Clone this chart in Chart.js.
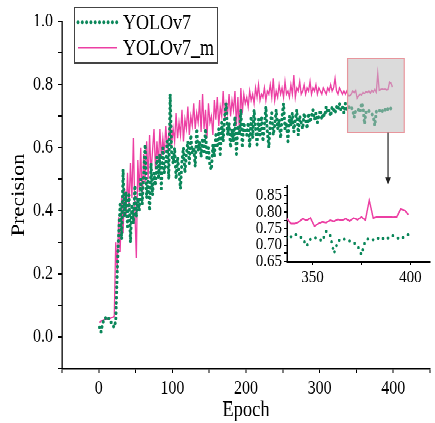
<!DOCTYPE html>
<html>
<head>
<meta charset="utf-8">
<script src="https://cdn.jsdelivr.net/npm/chart.js@4"></script>
<style>
  html, body { margin: 0; padding: 0; background: #fff; }
  #page { position: relative; width: 435px; height: 423px; }
  /* the reference figure is stretched vertically, so the whole drawing is too */
  #wrap { position: absolute; left: 0; top: 0; width: 435px; height: 352px; transform: scale(1, 1.2017); transform-origin: 0 0; }
  #mainChart { position: absolute; left: 0; top: 0; }
  #insetChart { position: absolute; left: 240px; top: 145px; }
</style>
</head>
<body>
<div id="page">
<div id="wrap">
  <canvas id="mainChart" width="435" height="352"></canvas>
  <canvas id="insetChart" width="195" height="100"></canvas>
</div>
</div>
<script>
// Precision per epoch, read every 2 epochs
const yolov7 = [
  0.030, 0.015, 0.040, 0.055, 0.060, 0.055, 0.060, 0.050, 0.045, 0.035,
  0.030, 0.050, 0.20, 0.33, 0.42, 0.31, 0.53, 0.38, 0.46, 0.35,
  0.45, 0.30, 0.42, 0.36, 0.48, 0.38, 0.44, 0.40, 0.50, 0.42,
  0.52, 0.61, 0.44, 0.50, 0.40, 0.55, 0.45, 0.52, 0.48, 0.57,
  0.50, 0.58, 0.47, 0.60, 0.52, 0.55, 0.62, 0.50, 0.77, 0.58,
  0.55, 0.60, 0.50, 0.57, 0.52, 0.47, 0.56, 0.60, 0.52, 0.58,
  0.62, 0.55, 0.64, 0.58, 0.60, 0.54, 0.66, 0.59, 0.62, 0.57,
  0.63, 0.58, 0.66, 0.56, 0.60, 0.54, 0.53, 0.61, 0.57, 0.64,
  0.60, 0.66, 0.58, 0.68, 0.62, 0.70, 0.74, 0.64, 0.68, 0.60,
  0.66, 0.62, 0.70, 0.58, 0.67, 0.64, 0.72, 0.60, 0.68, 0.65,
  0.64, 0.68, 0.60, 0.70, 0.63, 0.72, 0.66, 0.61, 0.69, 0.64,
  0.70, 0.62, 0.67, 0.73, 0.65, 0.60, 0.68, 0.71, 0.64, 0.67,
  0.72, 0.66, 0.69, 0.63, 0.70, 0.74, 0.66, 0.68, 0.62, 0.70,
  0.67, 0.71, 0.65, 0.69, 0.72, 0.64, 0.70, 0.68, 0.66, 0.71,
  0.69, 0.66, 0.71, 0.68, 0.70, 0.72, 0.69, 0.71, 0.68, 0.70,
  0.72, 0.69, 0.71, 0.70, 0.73, 0.71, 0.72, 0.70, 0.73, 0.72,
  0.71, 0.73, 0.72, 0.74, 0.72, 0.73, 0.71, 0.74, 0.72, 0.725,
  0.733, 0.728, 0.720, 0.696, 0.718, 0.722, 0.720, 0.712, 0.742, 0.730,
  0.675, 0.712, 0.720, 0.716, 0.712, 0.708, 0.698, 0.670, 0.714, 0.720,
  0.716, 0.722, 0.715, 0.724, 0.720, 0.728, 0.722, 0.718, 0.726, 0.732
];

const yolov7m = [
  0.045, 0.050, 0.052, 0.054, 0.055, 0.056, 0.058, 0.058, 0.060, 0.062,
  0.065, 0.30, 0.21, 0.38, 0.27, 0.44, 0.33, 0.47, 0.38, 0.52,
  0.41, 0.55, 0.44, 0.63, 0.40, 0.25, 0.56, 0.46, 0.60, 0.43,
  0.58, 0.49, 0.62, 0.50, 0.64, 0.52, 0.59, 0.66, 0.53, 0.62,
  0.55, 0.66, 0.57, 0.63, 0.58, 0.67, 0.60, 0.64, 0.70, 0.61,
  0.66, 0.62, 0.71, 0.63, 0.68, 0.64, 0.72, 0.62, 0.69, 0.66,
  0.73, 0.64, 0.70, 0.67, 0.74, 0.66, 0.71, 0.68, 0.75, 0.65,
  0.77, 0.66, 0.72, 0.63, 0.74, 0.68, 0.70, 0.64, 0.75, 0.69,
  0.76, 0.67, 0.73, 0.70, 0.78, 0.69, 0.74, 0.71, 0.77, 0.70,
  0.75, 0.72, 0.78, 0.67, 0.76, 0.65, 0.79, 0.71, 0.77, 0.74,
  0.76, 0.73, 0.78, 0.75, 0.77, 0.74, 0.79, 0.76, 0.80, 0.75,
  0.77, 0.76, 0.79, 0.75, 0.78, 0.77, 0.80, 0.76, 0.82, 0.75,
  0.78, 0.76, 0.80, 0.77, 0.79, 0.76, 0.81, 0.77, 0.78, 0.76,
  0.80, 0.77, 0.83, 0.76, 0.79, 0.78, 0.81, 0.77, 0.78, 0.80,
  0.77, 0.79, 0.78, 0.81, 0.77, 0.79, 0.78, 0.80, 0.77, 0.79,
  0.78, 0.77, 0.79, 0.78, 0.77, 0.79, 0.78, 0.80, 0.78, 0.79,
  0.82, 0.78, 0.77, 0.79, 0.78, 0.77, 0.78, 0.77, 0.78, 0.765,
  0.765, 0.770, 0.780, 0.775, 0.782, 0.757, 0.765, 0.770, 0.768, 0.775,
  0.772, 0.778, 0.775, 0.780, 0.773, 0.782, 0.777, 0.785, 0.776, 0.835,
  0.782, 0.785, 0.786, 0.785, 0.786, 0.784, 0.785, 0.808, 0.805, 0.792
];

// x values: one reading every 2 epochs
const epochs = yolov7.map((_, i) => i * 2 + 1);

const seriesNames = ["YOLOv7", "YOLOv7_m"];
const green = "#0b875a";
const pink = "#ec3fa3";
const serif = "'Liberation Serif', 'Times New Roman', serif";

// zoomed region shown in the inset
const zoomFrom = 338, zoomTo = 415, zoomLow = 0.648, zoomHigh = 0.883;

const toPoints = (vals) => vals.map((v, i) => ({ x: epochs[i], y: v }));

function makeDatasets(dotWidth, dotGap, lineWidth) {
  return [
    {
      label: seriesNames[0],
      data: toPoints(yolov7),
      borderColor: green,
      borderWidth: dotWidth,
      borderDash: [0, dotGap],
      borderCapStyle: "round",
      pointRadius: 0,
      tension: 0,
    },
    {
      label: seriesNames[1],
      data: toPoints(yolov7m),
      borderColor: pink,
      borderWidth: lineWidth,
      pointRadius: 0,
      tension: 0,
    },
  ];
}

// grey box + arrow over the zoomed region
const zoomBox = {
  id: "zoomBox",
  afterDatasetsDraw(chart) {
    const { ctx, scales: { x, y } } = chart;
    const left = x.getPixelForValue(zoomFrom);
    const right = x.getPixelForValue(zoomTo);
    const top = y.getPixelForValue(zoomHigh);
    const bottom = y.getPixelForValue(zoomLow);
    ctx.save();
    ctx.fillStyle = "rgba(190,190,190,0.55)";
    ctx.fillRect(left, top, right - left, bottom - top);
    ctx.strokeStyle = "#e8959c";
    ctx.lineWidth = 1.2;
    ctx.strokeRect(left, top, right - left, bottom - top);

    const ax = x.getPixelForValue(393);
    const tip = y.getPixelForValue(0.483);
    ctx.strokeStyle = "#333";
    ctx.lineWidth = 1.3;
    ctx.beginPath();
    ctx.moveTo(ax, bottom);
    ctx.lineTo(ax, tip - 4);
    ctx.stroke();
    ctx.fillStyle = "#222";
    ctx.beginPath();
    ctx.moveTo(ax - 2.8, tip - 6);
    ctx.lineTo(ax + 2.8, tip - 6);
    ctx.lineTo(ax, tip);
    ctx.closePath();
    ctx.fill();
    ctx.restore();
  },
};

// framed legend in the top-left corner
const boxLegend = {
  id: "boxLegend",
  afterDraw(chart) {
    const ctx = chart.ctx;
    ctx.save();
    ctx.strokeStyle = "#444";
    ctx.lineWidth = 1;
    ctx.strokeRect(74.5, 6, 143, 46.5);
    chart.data.datasets.forEach((ds, i) => {
      const y = 18.6 + i * 21;
      ctx.strokeStyle = ds.borderColor;
      ctx.lineWidth = ds.borderWidth;
      ctx.setLineDash(ds.borderDash || []);
      ctx.lineCap = ds.borderCapStyle || "butt";
      ctx.beginPath();
      ctx.moveTo(78, y);
      ctx.lineTo(117, y);
      ctx.stroke();
      ctx.setLineDash([]);
      ctx.fillStyle = "#000";
      ctx.font = "18px " + serif;
      ctx.textBaseline = "middle";
      ctx.fillText(ds.label, 123, y + 1);
    });
    ctx.restore();
  },
};

const axisLine = { color: "#000", width: 1.3 };
const outerTicks = { display: true, drawOnChartArea: false, drawTicks: true, tickLength: 4, color: "#000", lineWidth: 1 };

new Chart(document.getElementById("mainChart"), {
  type: "line",
  data: { datasets: makeDatasets(3, 4.3, 1.3) },
  options: {
    responsive: false,
    animation: false,
    devicePixelRatio: 2,
    layout: { padding: { top: 18, right: 0, bottom: 0, left: 0 } },
    plugins: { legend: { display: false }, tooltip: { enabled: false } },
    scales: {
      x: {
        type: "linear",
        min: -50,
        max: 450,
        border: axisLine,
        grid: outerTicks,
        ticks: {
          stepSize: 50,
          includeBounds: false,
          autoSkip: false,
          maxRotation: 0,
          padding: 5,
          color: "#000",
          font: { family: serif, size: 16, lineHeight: 1 },
          callback: (v) => (v % 100 === 0 ? String(v) : ""),
        },
        title: {
          display: true,
          text: "Epoch",
          color: "#000",
          font: { family: serif, size: 18.5, lineHeight: 1 },
          padding: { top: 2, bottom: 1 },
        },
        afterFit: (scale) => { scale.height = 45.5; },
      },
      y: {
        min: -0.1,
        max: 1.0,
        border: axisLine,
        grid: outerTicks,
        ticks: {
          stepSize: 0.1,
          includeBounds: false,
          autoSkip: false,
          padding: 5,
          color: "#000",
          font: { family: serif, size: 16, lineHeight: 1 },
          callback: (v) => (Math.round(v * 10) % 2 === 0 ? v.toFixed(1) : ""),
        },
        title: {
          display: true,
          text: "Precision",
          color: "#000",
          font: { family: serif, size: 18.5, lineHeight: 1 },
          padding: { top: 10, bottom: 4 },
        },
        afterFit: (scale) => { scale.width = 62; },
      },
    },
  },
  plugins: [zoomBox, boxLegend],
});

// inset: same data, zoomed on the last epochs
new Chart(document.getElementById("insetChart"), {
  type: "line",
  data: { datasets: makeDatasets(2.6, 5.5, 1.4) },
  options: {
    responsive: false,
    animation: false,
    devicePixelRatio: 2,
    layout: { padding: { top: 9, right: 5, bottom: 0, left: 0 } },
    plugins: { legend: { display: false }, tooltip: { enabled: false } },
    scales: {
      x: {
        type: "linear",
        min: 337,
        max: 410,
        border: { color: "#000", width: 1.5 },
        grid: { ...outerTicks, tickLength: 3 },
        ticks: {
          stepSize: 25,
          includeBounds: false,
          autoSkip: false,
          maxRotation: 0,
          padding: 3,
          color: "#000",
          font: { family: serif, size: 15, lineHeight: 1 },
          callback: (v) => (v % 50 === 0 ? String(v) : ""),
        },
        afterFit: (scale) => { scale.height = 27.5; },
      },
      y: {
        min: 0.65,
        max: 0.88,
        border: { color: "#000", width: 1.5 },
        grid: { ...outerTicks, tickLength: 3 },
        ticks: {
          stepSize: 0.025,
          includeBounds: false,
          autoSkip: false,
          padding: 2,
          color: "#000",
          font: { family: serif, size: 15, lineHeight: 1 },
          callback: (v) => (Math.round(v * 1000) % 50 === 0 ? v.toFixed(2) : ""),
        },
        afterFit: (scale) => { scale.width = 47; },
      },
    },
  },
});
</script>
</body>
</html>
